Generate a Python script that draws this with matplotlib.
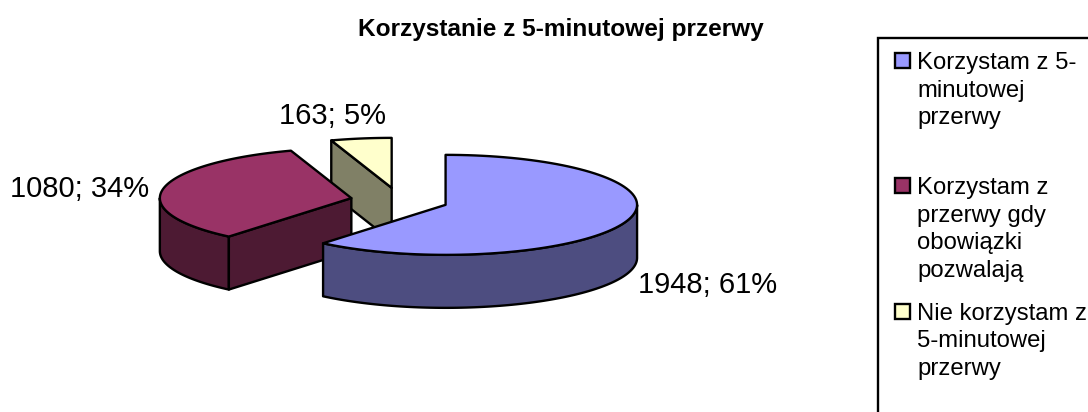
import numpy as np
import matplotlib
matplotlib.use('Agg')
import matplotlib.pyplot as plt
from matplotlib.patches import Polygon, Rectangle

plt.rcParams['font.family'] = ['Liberation Sans', 'DejaVu Sans']

title = 'Korzystanie z 5-minutowej przerwy'
values = [1948, 1080, 163]
legend_lines = [
    ['Korzystam z 5-', 'minutowej', 'przerwy'],
    ['Korzystam z', 'przerwy gdy', 'obowiązki', 'pozwalają'],
    ['Nie korzystam z', '5-minutowej', 'przerwy'],
]
top_colors = ['#9999FF', '#993366', '#FFFFCC']
side_colors = ['#4D4D80', '#4D1A33', '#808066']
label_pos = [(638, 293), (10, 197), (279, 124)]
legend_baselines = [69, 194, 320]

# pie geometry in pixels
cx, cy = 399.5, 200.5
rx, ry = 191.5, 50
depth = 53
explode = 49
edge = dict(edgecolor='black', linewidth=1.7, joinstyle='round')

fig = plt.figure(figsize=(10.88, 4.12), dpi=100)
ax = fig.add_axes([0, 0, 1, 1])
ax.set_xlim(0, 1088)
ax.set_ylim(412, 0)
ax.axis('off')


def point(c, t):
    # t in degrees, clockwise from 12 o'clock
    r = np.radians(t)
    return c[0] + rx * np.sin(r), c[1] - ry * np.cos(r)


def arc(c, t0, t1):
    ts = np.linspace(t0, t1, 100)
    return np.column_stack(point(c, ts))


fractions = np.array(values) / sum(values)
ends = np.cumsum(fractions) * 360
starts = np.r_[0, ends[:-1]]

# back slice first, front slice last
for i in [2, 1, 0]:
    t0, t1 = starts[i], ends[i]
    mid = np.radians((t0 + t1) / 2)
    c = (cx + explode * np.sin(mid), cy - explode * np.cos(mid) * ry / rx)

    # rim, only the part facing the viewer
    a, b = max(t0, 90), min(t1, 270)
    if a < b:
        rim = arc(c, a, b)
        low = rim[::-1] + [0, depth]
        ax.add_patch(Polygon(np.vstack([rim, low]), facecolor=side_colors[i], **edge))

    # cut faces
    for t, visible in [(t0, np.sin(np.radians(t0)) < -1e-6), (t1, np.sin(np.radians(t1)) > 1e-6)]:
        if visible:
            p = point(c, t)
            face = [c, p, (p[0], p[1] + depth), (c[0], c[1] + depth)]
            ax.add_patch(Polygon(face, facecolor=side_colors[i], **edge))

    # top
    top = np.vstack([[c], arc(c, t0, t1)])
    ax.add_patch(Polygon(top, facecolor=top_colors[i], **edge))

    pct = round(fractions[i] * 100)
    ax.text(label_pos[i][0], label_pos[i][1], f'{values[i]}; {pct}%',
            fontsize=21, va='baseline', ha='left', color='black')

ax.text(560.5, 36, title, fontsize=17.6, fontweight='bold', ha='center', va='baseline')

# legend box runs off the right and bottom edges
ax.add_patch(Rectangle((878, 38), 300, 500, facecolor='white', edgecolor='black', linewidth=1.7))
for i, lines in enumerate(legend_lines):
    base = legend_baselines[i]
    ax.add_patch(Rectangle((895, base - 16), 15, 15, facecolor=top_colors[i],
                           edgecolor='black', linewidth=1.7))
    for j, line in enumerate(lines):
        ax.text(917, base + j * 27.5, line, fontsize=17.2, va='baseline', ha='left')

fig.savefig('out.png', dpi=100)
